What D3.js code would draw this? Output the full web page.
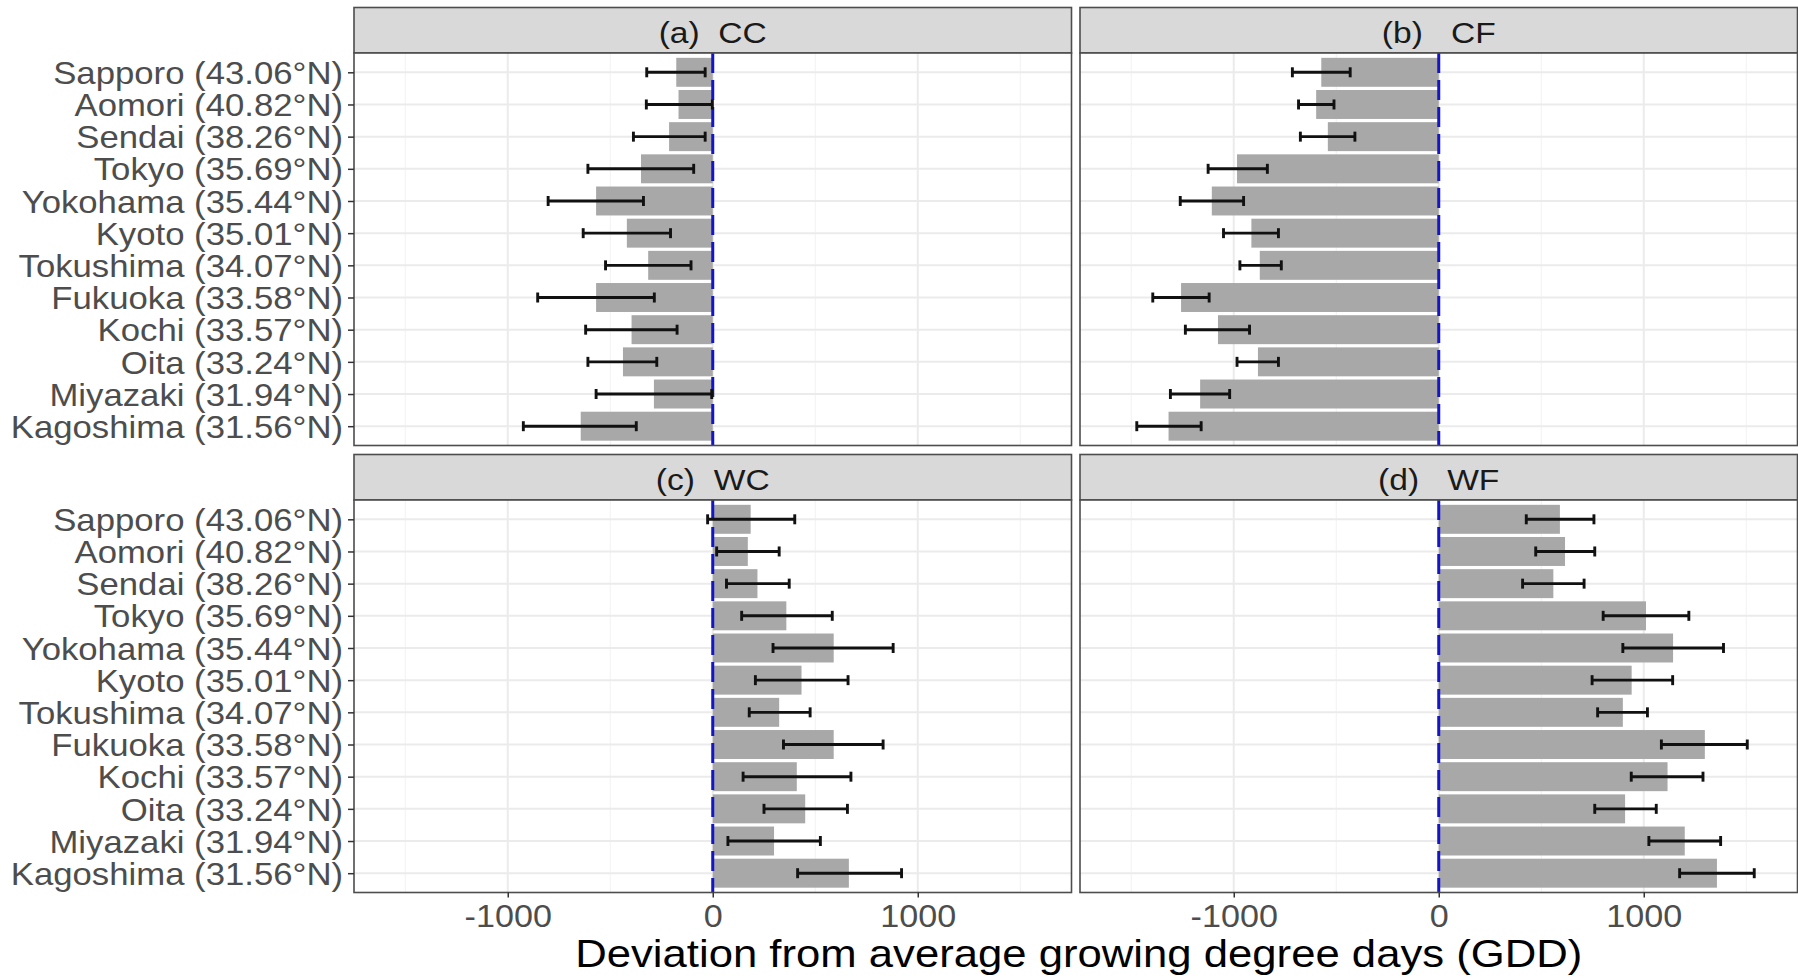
<html>
  <head>
    <meta content="text/html; charset=utf-8" http-equiv="Content-Type">
    <style>
      body { margin: 0; background: white; }
      svg text { font-family: 'Liberation Sans', Arial, sans-serif; white-space: pre; }
    </style>
  </head>
  <body>
    <svg id="svg"></svg>

<script src="https://d3js.org/d3.v7.min.js"></script>
<script>

// cities, top to bottom
const cities = ["Sapporo (43.06°N)", "Aomori (40.82°N)", "Sendai (38.26°N)", "Tokyo (35.69°N)",
  "Yokohama (35.44°N)", "Kyoto (35.01°N)", "Tokushima (34.07°N)", "Fukuoka (33.58°N)",
  "Kochi (33.57°N)", "Oita (33.24°N)", "Miyazaki (31.94°N)", "Kagoshima (31.56°N)"];

// (a) CC
const ccMean = [-178, -167, -213, -350, -569, -419, -315, -569, -396, -438, -287, -644];
const ccLo   = [-322, -324, -387, -609, -803, -632, -523, -854, -620, -609, -569, -924];
const ccHi   = [-37, -2, -37, -93, -338, -206, -106, -285, -174, -273, -5, -373];

// (b) CF
const cfMean = [-573, -598, -541, -984, -1107, -914, -873, -1257, -1077, -882, -1164, -1318];
const cfLo   = [-714, -684, -675, -1125, -1261, -1050, -970, -1395, -1236, -984, -1309, -1473];
const cfHi   = [-432, -511, -409, -836, -952, -782, -768, -1120, -923, -782, -1020, -1159];

// (c) WC
const wcMean = [185, 171, 218, 359, 590, 433, 324, 590, 410, 451, 299, 664];
const wcLo   = [-25, 19, 67, 141, 294, 208, 178, 345, 148, 250, 74, 414];
const wcHi   = [400, 324, 373, 583, 880, 660, 475, 831, 674, 657, 525, 921];

// (d) WF
const wfMean = [591, 616, 559, 1011, 1143, 941, 898, 1298, 1116, 909, 1200, 1357];
const wfLo   = [427, 473, 409, 802, 898, 748, 775, 1086, 939, 761, 1025, 1175];
const wfHi   = [757, 761, 709, 1220, 1389, 1141, 1018, 1505, 1289, 1061, 1375, 1539];

const xTicks = [-1000, 0, 1000];
const xMinor = [-1500, -500, 500, 1500];
const panelLabels = ["(a)  CC", "(b)   CF", "(c)  WC", "(d)   WF"];
const xTitle = "Deviation from average growing degree days (GDD)";

const width = 1798;
const height = 979;
const colX = [354, 1080];
const rowTop = [7.5, 454.5];
const stripH = 45.5;
const pw = 717.5;
const ph = 392.5;
const sx = 1.12; // text in the picture is a bit wide

const svg = d3.select("#svg")
    .attr("width", width)
    .attr("height", height);

const x = d3.scaleLinear()
    .domain([-1750, 1750])
    .range([0, pw]);

const y = d3.scalePoint()
    .domain(cities)
    .range([0, ph])
    .padding(0.6);

const barH = y.step() * 0.9;

const panels = [
  { label: panelLabels[0], mean: ccMean, lo: ccLo, hi: ccHi, col: 0, row: 0 },
  { label: panelLabels[1], mean: cfMean, lo: cfLo, hi: cfHi, col: 1, row: 0 },
  { label: panelLabels[2], mean: wcMean, lo: wcLo, hi: wcHi, col: 0, row: 1 },
  { label: panelLabels[3], mean: wfMean, lo: wfLo, hi: wfHi, col: 1, row: 1 }
];

panels.forEach(function(p) {
  const left = colX[p.col];
  const top = rowTop[p.row];

  // strip
  const strip = svg.append("g").attr("transform", `translate(${left}, ${top})`);
  strip.append("rect")
      .attr("width", pw)
      .attr("height", stripH)
      .attr("fill", "#d9d9d9")
      .attr("stroke", "#4d4d4d")
      .attr("stroke-width", 1.6);
  strip.append("text")
      .attr("transform", `translate(${pw / 2}, 35) scale(${sx}, 1)`)
      .attr("text-anchor", "middle")
      .attr("font-size", 30)
      .attr("fill", "#1a1a1a")
      .text(p.label);

  const chart = svg.append("g").attr("transform", `translate(${left}, ${top + stripH})`);

  chart.append("rect")
      .attr("width", pw)
      .attr("height", ph)
      .attr("fill", "white");

  // grid
  chart.selectAll(".minor")
      .data(xMinor)
      .enter().append("line")
      .attr("x1", d => x(d)).attr("x2", d => x(d))
      .attr("y1", 0).attr("y2", ph)
      .attr("stroke", "#f2f2f2")
      .attr("stroke-width", 1);
  chart.selectAll(".major")
      .data(xTicks)
      .enter().append("line")
      .attr("x1", d => x(d)).attr("x2", d => x(d))
      .attr("y1", 0).attr("y2", ph)
      .attr("stroke", "#ebebeb")
      .attr("stroke-width", 2);
  chart.selectAll(".hgrid")
      .data(cities)
      .enter().append("line")
      .attr("x1", 0).attr("x2", pw)
      .attr("y1", d => y(d)).attr("y2", d => y(d))
      .attr("stroke", "#ebebeb")
      .attr("stroke-width", 2);

  // bars
  chart.selectAll(".bar")
      .data(cities)
      .enter().append("rect")
      .attr("x", (d, i) => x(Math.min(0, p.mean[i])))
      .attr("y", d => y(d) - barH / 2)
      .attr("width", (d, i) => Math.abs(x(p.mean[i]) - x(0)))
      .attr("height", barH)
      .attr("fill", "#a8a8a8");

  // zero line
  chart.append("line")
      .attr("x1", x(0)).attr("x2", x(0))
      .attr("y1", 0).attr("y2", ph)
      .attr("stroke", "#1414c8")
      .attr("stroke-width", 3)
      .attr("stroke-dasharray", "20,7");

  // error bars
  const err = chart.selectAll(".err")
      .data(cities)
      .enter().append("g");
  err.append("line")
      .attr("x1", (d, i) => x(p.lo[i])).attr("x2", (d, i) => x(p.hi[i]))
      .attr("y1", d => y(d)).attr("y2", d => y(d));
  err.append("line")
      .attr("x1", (d, i) => x(p.lo[i])).attr("x2", (d, i) => x(p.lo[i]))
      .attr("y1", d => y(d) - 5).attr("y2", d => y(d) + 5);
  err.append("line")
      .attr("x1", (d, i) => x(p.hi[i])).attr("x2", (d, i) => x(p.hi[i]))
      .attr("y1", d => y(d) - 5).attr("y2", d => y(d) + 5);
  err.selectAll("line")
      .attr("stroke", "#111")
      .attr("stroke-width", 2.9);

  chart.append("rect")
      .attr("width", pw)
      .attr("height", ph)
      .attr("fill", "none")
      .attr("stroke", "#4d4d4d")
      .attr("stroke-width", 1.6);

  // axes on the outer panels only
  if (p.col === 0) {
    const ya = chart.append("g")
        .call(d3.axisLeft(y).tickSize(6).tickPadding(3.8));
    ya.select(".domain").remove();
    ya.selectAll("line").attr("stroke", "#333").attr("stroke-width", 1.5);
    ya.selectAll("text")
        .attr("transform", `scale(${sx}, 1)`)
        .attr("dy", "0.36em")
        .attr("font-size", 31)
        .attr("fill", "#4d4d4d");
  }
  if (p.row === 1) {
    const xa = chart.append("g")
        .attr("transform", `translate(0, ${ph})`)
        .call(d3.axisBottom(x).tickValues(xTicks).tickSize(5).tickFormat(d => String(d)));
    xa.select(".domain").remove();
    xa.selectAll("line").attr("stroke", "#333").attr("stroke-width", 1.5);
    xa.selectAll("text")
        .attr("y", 34.5)
        .attr("dy", null)
        .attr("transform", `scale(${sx}, 1)`)
        .attr("font-size", 30.5)
        .attr("fill", "#4d4d4d");
  }
});

svg.append("text")
    .attr("transform", `translate(${(colX[0] + colX[1] + pw) / 2 + 3}, 967) scale(${sx}, 1)`)
    .attr("text-anchor", "middle")
    .attr("font-size", 39)
    .attr("fill", "black")
    .text(xTitle);

</script>
</body>
</html>
